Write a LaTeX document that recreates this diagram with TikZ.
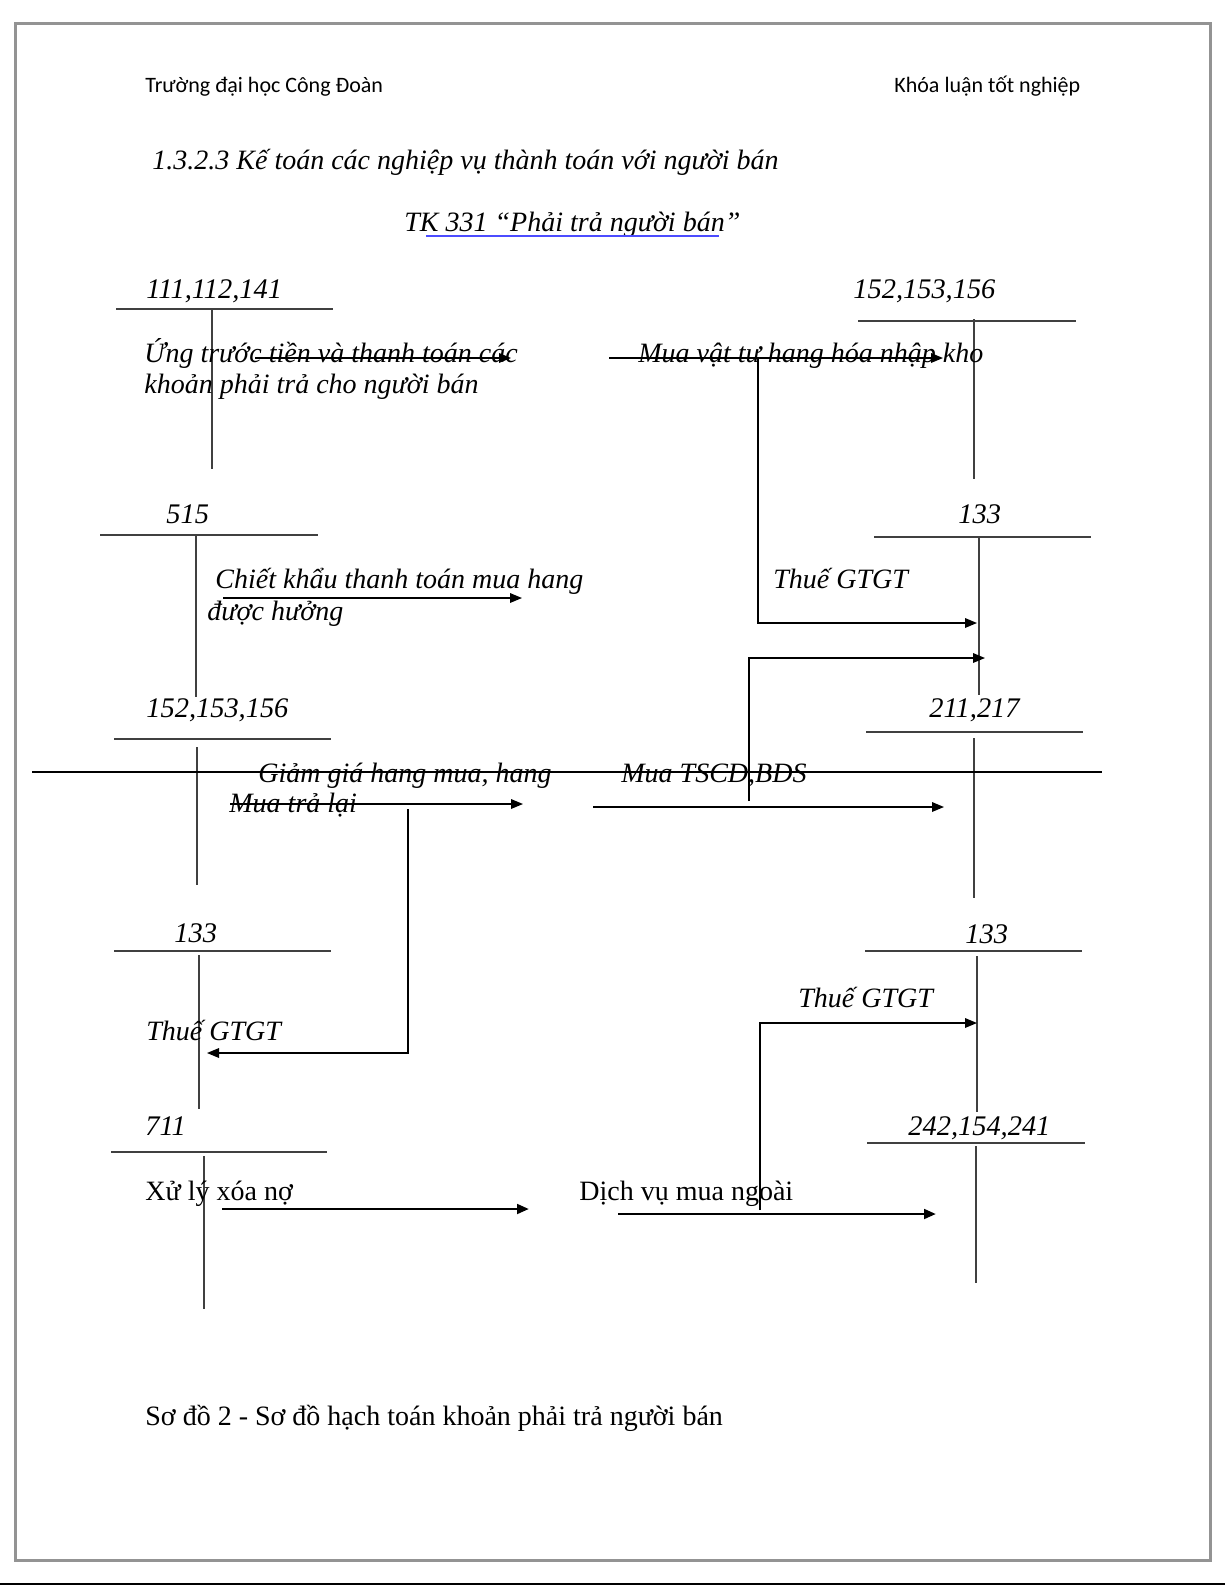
\documentclass[tikz,border=0pt]{standalone}
\usepackage{fontspec}
\setmainfont{Liberation Serif}
\newfontfamily\headfont{Carlito}
\usetikzlibrary{arrows.meta}
\usetikzlibrary{positioning,calc}

\tikzset{
  acct/.style={font=\itshape\fontsize{14.2}{17}\selectfont, inner sep=0pt, anchor=base west},
  note/.style={font=\itshape\fontsize{14}{17}\selectfont, inner sep=0pt, anchor=base west},
  plainnote/.style={font=\fontsize{14}{17}\selectfont, inner sep=0pt, anchor=base west},
  tline/.style={line width=1pt, black!75},
  flow/.style={line width=0.7pt, -{Triangle[length=6pt,width=4.8pt]}},
  boldflow/.style={line width=1.4pt, -{Triangle[length=6pt,width=4.8pt]}},
}

\begin{document}
\begin{tikzpicture}[x=0.5pt,y=-0.5pt]
   \useasboundingbox (0,0) rectangle (1225,1585);
   % page
   \draw[line width=1.5pt, gray!85] (15,23) rectangle (1210,1560);
   \draw[line width=1pt] (0,1584) -- (1225,1584);

   \node[inner sep=0pt, anchor=base west, font=\headfont\fontsize{11}{13}\selectfont] (school) at (145,92) {Trường đại học Công Đoàn};
   \node[inner sep=0pt, anchor=base west, font=\headfont\fontsize{11}{13}\selectfont] (thesis) at (894,92) {Khóa luận tốt nghiệp};
   \node[note, font=\itshape\fontsize{14}{17}\selectfont] (title) at (152,169) {1.3.2.3 Kế toán các nghiệp vụ thành toán với người bán};
   \node[note, font=\itshape\fontsize{14}{17}\selectfont] (tk) at (404,231) {TK 331 “Phải trả người bán”};
   \draw[blue!70, line width=0.6pt] (426,236) -- (719,236);

   % accounts, left
   \node[acct] (a1) at (146,298) {111,112,141};
   \draw[tline] (116,309) -- (333,309) (212,309) -- (212,469);
   \node[acct] (a2) at (166,523) {515};
   \draw[tline] (100,535) -- (318,535) (196,536) -- (196,697);
   \node[acct] (a3) at (146,717) {152,153,156};
   \draw[tline] (114,739) -- (331,739) (197,747) -- (197,885);
   \node[acct] (a4) at (174,942) {133};
   \draw[tline] (114,951) -- (331,951) (199,955) -- (199,1109);
   \node[acct] (a5) at (145,1135) {711};
   \draw[tline] (111,1152) -- (327,1152) (204,1156) -- (204,1309);

   % accounts, right
   \node[acct] (b1) at (853,298) {152,153,156};
   \draw[tline] (858,321) -- (1076,321) (974,319) -- (974,479);
   \node[acct] (b2) at (958,523) {133};
   \draw[tline] (874,537) -- (1091,537) (979,537) -- (979,695);
   \node[acct] (b3) at (929,717) {211,217};
   \draw[tline] (866,732) -- (1083,732) (974,738) -- (974,898);
   \node[acct] (b4) at (965,943) {133};
   \draw[tline] (865,951) -- (1082,951) (977,956) -- (977,1112);
   \node[acct] (b5) at (908,1135) {242,154,241};
   \draw[tline] (867,1143) -- (1085,1143) (976,1146) -- (976,1283);

   % texts of the entries
   \node[note] (n1) at (144,362) {Ứng trước tiền và thanh toán các};
   \node[note] (n1b) at (144,393) {khoản phải trả cho người bán};
   \node[note] (n2) at (638,362) {Mua vật tư hang hóa nhập kho};
   \node[note] (n3) at (215,588) {Chiết khẩu thanh toán mua hang};
   \node[note] (n3b) at (207,620) {được hưởng};
   \node[note] (n4) at (773,588) {Thuế GTGT};
   \node[note] (n5) at (258,782) {Giảm giá hang mua, hang};
   \node[note] (n5b) at (229,812) {Mua trả lại};
   \node[note] (n6) at (621,782) {Mua TSCD,BDS};
   \node[note] (n7) at (146,1040) {Thuế GTGT};
   \node[note] (n8) at (798,1007) {Thuế GTGT};
   \node[plainnote] (n9) at (145,1200) {Xử lý xóa nợ};
   \node[plainnote] (n10) at (579,1200) {Dịch vụ mua ngoài};

   % arrows
   \coordinate (f1s) at (255,358);  \coordinate (f1e) at (511,358);
   \coordinate (f2s) at (609,358);  \coordinate (f2e) at (943,358);
   \coordinate (f2k) at (758,358);  \coordinate (f2t) at (977,623);
   \coordinate (f3s) at (223,598);  \coordinate (f3e) at (522,598);
   \coordinate (f4s) at (749,801);  \coordinate (f4e) at (985,658);
   \coordinate (cuts) at (32,772);  \coordinate (cute) at (1102,772);
   \coordinate (f5s) at (230,804);  \coordinate (f5e) at (523,804);
   \coordinate (f6s) at (408,809);  \coordinate (f6e) at (207,1053);
   \coordinate (f7s) at (593,807);  \coordinate (f7e) at (944,807);
   \coordinate (f8s) at (760,1210); \coordinate (f8e) at (977,1023);
   \coordinate (f9s) at (222,1209); \coordinate (f9e) at (529,1209);
   \coordinate (f10s) at (618,1214); \coordinate (f10e) at (936,1214);

   \draw[flow] (f1s) -- (f1e);
   \draw[flow] (f2s) -- (f2e);
   \draw[flow] (f2k) |- (f2t);
   \draw[flow] (f3s) -- (f3e);
   \draw[flow] (f4s) |- (f4e);
   \draw[line width=0.7pt] (cuts) -- (cute);
   \draw[flow] (f5s) -- (f5e);
   \draw[flow] (f6s) |- (f6e);
   \draw[flow] (f7s) -- (f7e);
   \draw[flow] (f8s) |- (f8e);
   \draw[boldflow] (f9s) -- (f9e);
   \draw[boldflow] (f10s) -- (f10e);

   \node[plainnote] (caption) at (145,1425) {Sơ đồ 2 - Sơ đồ hạch toán khoản phải trả người bán};
\end{tikzpicture}
\end{document}
